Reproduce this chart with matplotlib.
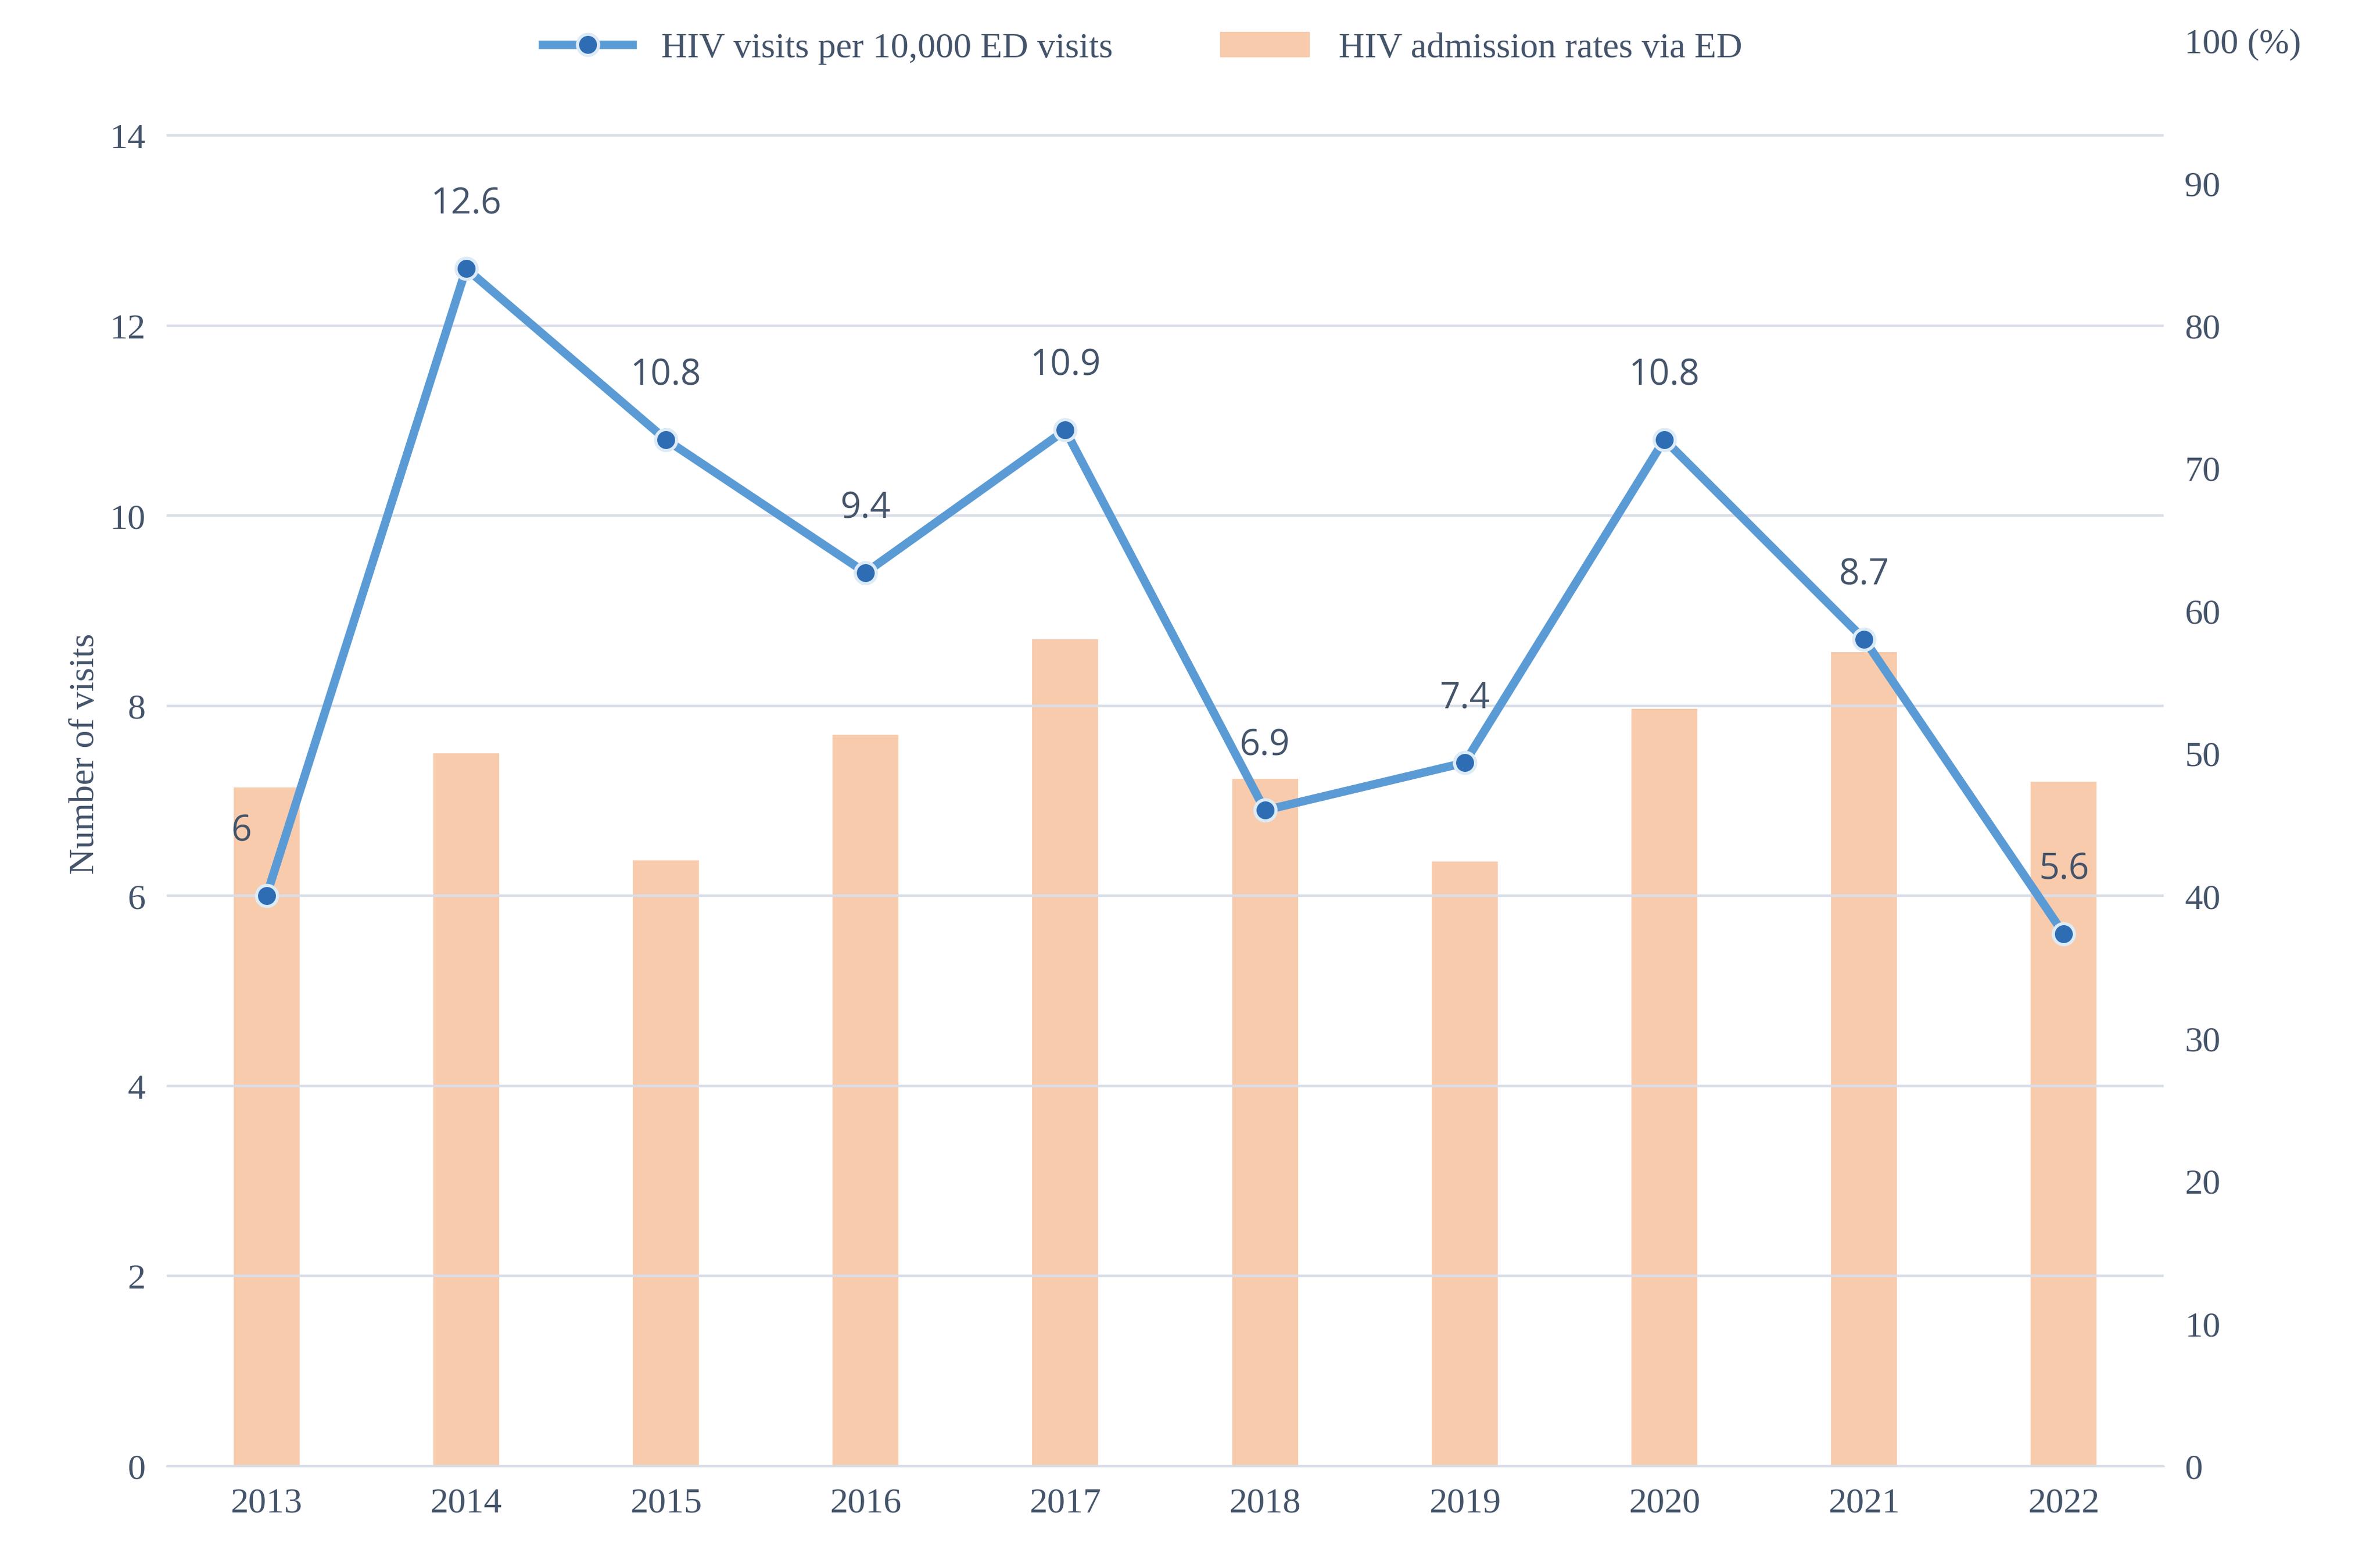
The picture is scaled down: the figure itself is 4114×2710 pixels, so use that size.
import numpy as np
import matplotlib.pyplot as plt

years = ['2013', '2014', '2015', '2016', '2017', '2018', '2019', '2020', '2021', '2022']
visits = [6, 12.6, 10.8, 9.4, 10.9, 6.9, 7.4, 10.8, 8.7, 5.6]
admission = [47.6, 50.0, 42.5, 51.3, 58.0, 48.2, 42.4, 53.1, 57.1, 48.0]

txt = '#44546A'
plt.rcParams['font.family'] = ['Liberation Serif', 'DejaVu Serif']

fig = plt.figure(figsize=(15.68, 10.33), dpi=262.4)
ax = fig.add_axes([0.07, 0.065, 0.839, 0.909])
ax2 = ax.twinx()
x = np.arange(len(years))

ax2.bar(x, admission, width=0.33, color='#F8CBAD', zorder=1, label='HIV admission rates via ED')
ax2.set_ylim(0, 100)
ax2.set_yticks(range(0, 101, 10))
ax2.set_yticklabels([str(v) for v in range(0, 100, 10)] + ['100 (%)'])

ax.set_zorder(ax2.get_zorder() + 1)
ax.patch.set_visible(False)
ax.plot(x, visits, color='#5B9BD5', lw=4, marker='o', ms=10,
        mfc='#2E6DB4', mec='#DDEBF7', mew=1.5, label='HIV visits per 10,000 ED visits')
for xi, v in zip(x, visits):
    dx = -0.12 if xi == 0 else 0
    ax.annotate(f'{v:g}', (xi, v), xytext=(dx * 100, 22), textcoords='offset points',
                ha='center', va='bottom', fontsize=17, color=txt, family='Open Sans')
ax.set_ylim(0, 15)
ax.set_yticks(range(0, 15, 2))
ax.set_xlim(-0.5, len(years) - 0.5)
ax.set_xticks(x)
ax.set_xticklabels(years)
ax.set_ylabel('Number of visits', fontsize=17, color=txt)
ax.grid(axis='y', color='#D9DEE8', lw=1.2)
ax.set_axisbelow(True)

for a in (ax, ax2):
    for s in a.spines.values():
        s.set_visible(False)
    a.tick_params(length=0, labelsize=17, labelcolor=txt, pad=10)
ax.spines['bottom'].set_visible(True)
ax.spines['bottom'].set_color('#D9DEE8')

h1, l1 = ax.get_legend_handles_labels()
h2, l2 = ax2.get_legend_handles_labels()
fig.legend(h1 + h2, l1 + l2, loc='upper center', bbox_to_anchor=(0.48, 1.0), ncol=2,
           frameon=False, fontsize=17, labelcolor=txt, columnspacing=3, handlelength=2.5)

fig.savefig('out.png')
